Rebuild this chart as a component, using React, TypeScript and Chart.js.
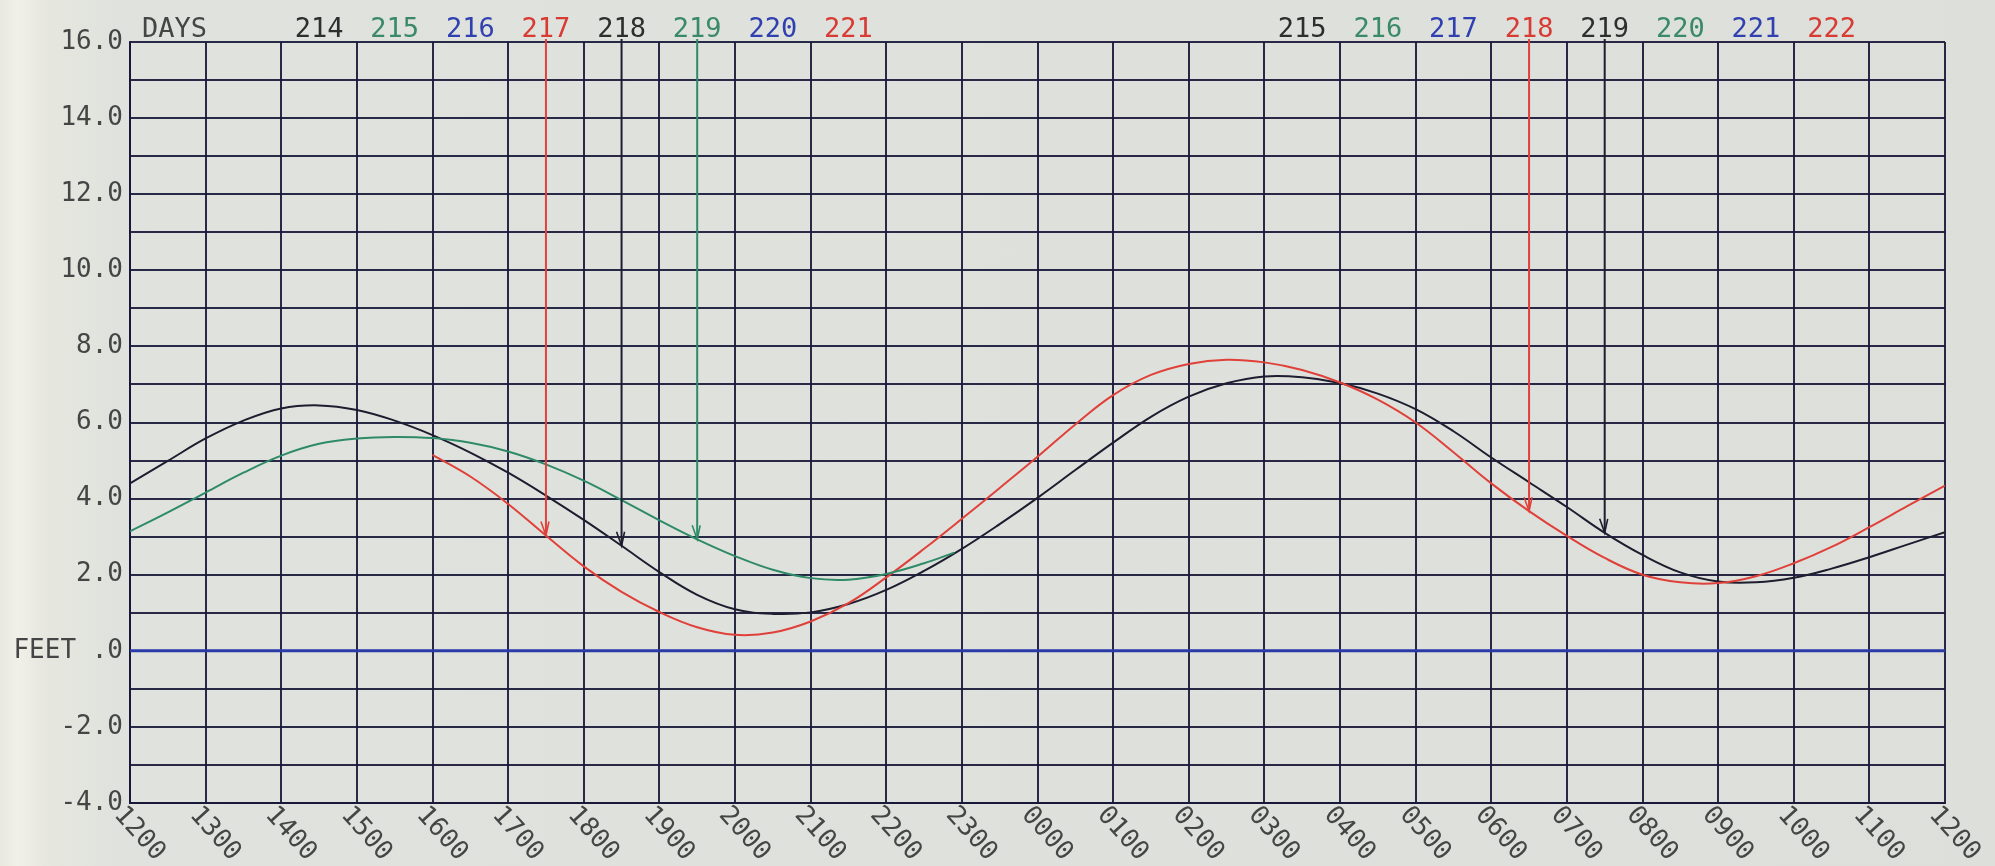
import React, { useEffect, useRef } from "react";
import { Chart, registerables } from "chart.js";

Chart.register(...registerables);

// ---- data (hours after 1200 on the left edge; feet) ----
const blackHours = [0, 0.5, 1, 1.5, 2, 2.5, 3, 3.5, 4, 4.5, 5, 5.5, 6, 6.5, 7, 7.5, 8, 8.5, 9, 9.5, 10, 10.5, 11, 11.5, 12, 12.5, 13, 13.5, 14, 14.5, 15, 15.5, 16, 16.5, 17, 17.5, 18, 18.5, 19, 19.5, 20, 20.5, 21, 21.5, 22, 22.5, 23, 23.5, 24];
const blackFeet = [4.4, 4.99, 5.58, 6.05, 6.37, 6.45, 6.33, 6.05, 5.67, 5.21, 4.68, 4.08, 3.44, 2.76, 2.07, 1.47, 1.09, 0.97, 1.01, 1.23, 1.6, 2.1, 2.68, 3.33, 4.02, 4.75, 5.47, 6.15, 6.68, 7.03, 7.21, 7.19, 7.04, 6.76, 6.35, 5.77, 5.08, 4.43, 3.78, 3.1, 2.52, 2.06, 1.82, 1.8, 1.92, 2.16, 2.46, 2.79, 3.12];

const greenHours = [0, 0.5, 1, 1.5, 2, 2.5, 3, 3.5, 4, 4.5, 5, 5.5, 6, 6.5, 7, 7.5, 8, 8.5, 9, 9.5, 10, 10.5, 10.9];
const greenFeet = [3.14, 3.64, 4.16, 4.68, 5.13, 5.44, 5.58, 5.62, 5.59, 5.47, 5.24, 4.9, 4.47, 3.96, 3.43, 2.93, 2.49, 2.13, 1.91, 1.87, 2.02, 2.3, 2.58];

const redHours = [4, 4.5, 5, 5.5, 6, 6.5, 7, 7.5, 8, 8.5, 9, 9.5, 10, 10.5, 11, 11.5, 12, 12.5, 13, 13.5, 14, 14.5, 15, 15.5, 16, 16.5, 17, 17.5, 18, 18.5, 19, 19.5, 20, 20.5, 21, 21.5, 22, 22.5, 23, 23.5, 24];
const redFeet = [5.15, 4.58, 3.86, 3.03, 2.22, 1.55, 1.02, 0.62, 0.42, 0.48, 0.77, 1.25, 1.93, 2.68, 3.47, 4.28, 5.1, 5.95, 6.72, 7.25, 7.54, 7.65, 7.58, 7.38, 7.05, 6.6, 6.0, 5.22, 4.4, 3.67, 3.02, 2.44, 2.0, 1.8, 1.78, 1.96, 2.3, 2.73, 3.25, 3.8, 4.34];

const zeroHours = [0, 24];
const zeroFeet = [0, 0];

const xTickLabels = ["1200", "1300", "1400", "1500", "1600", "1700", "1800", "1900", "2000", "2100", "2200", "2300", "0000", "0100", "0200", "0300", "0400", "0500", "0600", "0700", "0800", "0900", "1000", "1100", "1200"];
const yTickValues = [16, 14, 12, 10, 8, 6, 4, 2, 0, -2, -4];
const yTickLabels = ["16.0", "14.0", "12.0", "10.0", "8.0", "6.0", "4.0", "2.0", "FEET .0", "-2.0", "-4.0"];

const leftDayNumbers = ["214", "215", "216", "217", "218", "219", "220", "221"];
const leftDayHours = [2.5, 3.5, 4.5, 5.5, 6.5, 7.5, 8.5, 9.5];
const rightDayNumbers = ["215", "216", "217", "218", "219", "220", "221", "222"];
const rightDayHours = [15.5, 16.5, 17.5, 18.5, 19.5, 20.5, 21.5, 22.5];

const arrowHours = [5.5, 6.5, 7.5, 18.5, 19.5];
const arrowTipFeet = [3.03, 2.76, 2.93, 3.67, 3.1];

// ---- styles ----
const BLACK = "#1d1d30";
const GREEN = "#2f8a68";
const BLUE = "#2a3aa8";
const RED = "#e0403a";
const GRID = "rgba(24,24,58,0.92)";
const TEXT = "#454545";
const FONT = "'DejaVu Sans Mono', 'Liberation Mono', monospace";
const dayColorCycle = ["#2e2e2e", "#3a8a68", "#3040b0", "#d83a34"];
const arrowColors = [RED, BLACK, GREEN, RED, BLACK];

const pts = (xs: number[], ys: number[]) => xs.map((x, i) => ({ x, y: ys[i] }));

const overlay = {
  id: "overlay",
  afterDraw(chart: any) {
    const { ctx, chartArea } = chart;
    const xs = chart.scales.x;
    const ys = chart.scales.y;
    ctx.save();
    // rotated hour labels
    ctx.font = `26px ${FONT}`;
    ctx.fillStyle = TEXT;
    xTickLabels.forEach((lab, i) => {
      const px = xs.getPixelForValue(i);
      ctx.save();
      ctx.translate(px - 2, chartArea.bottom - 1);
      ctx.rotate((48 * Math.PI) / 180);
      ctx.textAlign = "left";
      ctx.textBaseline = "top";
      ctx.fillText(lab, 0, 0);
      ctx.restore();
    });
    // day labels
    ctx.font = `27px ${FONT}`;
    ctx.textBaseline = "alphabetic";
    ctx.textAlign = "left";
    ctx.fillStyle = TEXT;
    ctx.fillText("DAYS", chartArea.left + 12, 37);
    ctx.textAlign = "center";
    leftDayNumbers.forEach((d, i) => {
      ctx.fillStyle = dayColorCycle[i % 4];
      ctx.fillText(d, xs.getPixelForValue(leftDayHours[i]), 37);
    });
    rightDayNumbers.forEach((d, i) => {
      ctx.fillStyle = dayColorCycle[i % 4];
      ctx.fillText(d, xs.getPixelForValue(rightDayHours[i]), 37);
    });
    // arrows
    arrowHours.forEach((h, i) => {
      const x = xs.getPixelForValue(h);
      const yTip = ys.getPixelForValue(arrowTipFeet[i]);
      ctx.strokeStyle = arrowColors[i];
      ctx.lineWidth = 2;
      ctx.beginPath();
      ctx.moveTo(x, chartArea.top - 3);
      ctx.lineTo(x, yTip);
      ctx.stroke();
      ctx.lineWidth = 1.6;
      ctx.beginPath();
      ctx.moveTo(x - 5, yTip - 14);
      ctx.lineTo(x, yTip);
      ctx.lineTo(x + 3, yTip - 14);
      ctx.stroke();
    });
    ctx.restore();
  },
};

export default function App() {
  const ref = useRef<HTMLCanvasElement | null>(null);
  useEffect(() => {
    document.body.style.margin = "0";
    const canvas = ref.current!;
    const chart = new Chart(canvas, {
      type: "line",
      data: {
        datasets: [
          { data: pts(zeroHours, zeroFeet), borderColor: BLUE, borderWidth: 3, pointRadius: 0 },
          { data: pts(greenHours, greenFeet), borderColor: GREEN, borderWidth: 2, pointRadius: 0, tension: 0.4 },
          { data: pts(redHours, redFeet), borderColor: RED, borderWidth: 2, pointRadius: 0, tension: 0.4 },
          { data: pts(blackHours, blackFeet), borderColor: BLACK, borderWidth: 2, pointRadius: 0, tension: 0.4 },
        ],
      },
      options: {
        animation: false,
        responsive: false,
        devicePixelRatio: 1,
        layout: { padding: { left: 0, top: 42, right: 50, bottom: 0 } },
        plugins: { legend: { display: false }, tooltip: { enabled: false } },
        scales: {
          x: {
            type: "linear",
            min: 0,
            max: 24,
            ticks: { display: false, stepSize: 1 },
            grid: { color: GRID, lineWidth: 2, drawTicks: false },
            border: { color: GRID, width: 2 },
            afterFit: (s: any) => { s.height = 63; },
          },
          y: {
            min: -4,
            max: 16,
            ticks: {
              stepSize: 1,
              autoSkip: false,
              padding: 7,
              color: TEXT,
              font: { family: FONT, size: 26 },
              callback: (v: any) => {
                const idx = yTickValues.indexOf(Number(v));
                return idx >= 0 ? yTickLabels[idx] : "";
              },
            },
            grid: { color: GRID, lineWidth: 2, drawTicks: false },
            border: { color: GRID, width: 2 },
            afterFit: (s: any) => { s.width = 130; },
          },
        },
      },
      plugins: [overlay],
    });
    return () => chart.destroy();
  }, []);
  return (
    <div
      style={{
        position: "fixed",
        left: 0,
        top: 0,
        width: 1995,
        height: 866,
        background:
          "linear-gradient(to right, #e9e8de 0px, #f1f0e8 18px, #e6e7df 45px, #e0e3dd 110px, #dde0da 100%)",
      }}
    >
      <canvas ref={ref} width={1995} height={866} />
    </div>
  );
}
